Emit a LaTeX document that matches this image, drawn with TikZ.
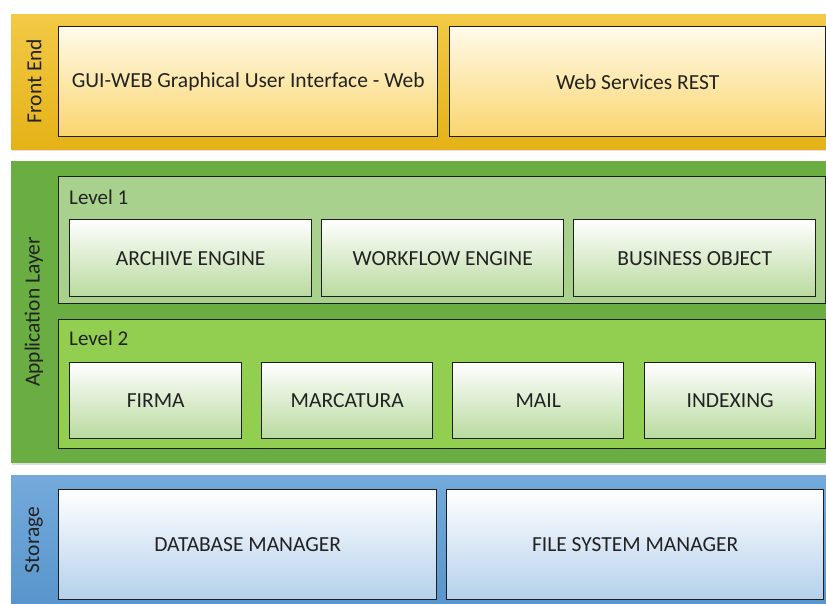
\documentclass[tikz,border=0pt]{standalone}
\usepackage{fontspec}
\setmainfont{Carlito}
\usetikzlibrary{shadows}
\definecolor{goldband}{HTML}{F0BC18}
\definecolor{goldtop}{HTML}{FFFBEA}
\definecolor{goldbot}{HTML}{FAD56E}
\definecolor{greenband}{HTML}{6AAD42}
\definecolor{levelone}{HTML}{A9D18E}
\definecolor{leveltwo}{HTML}{92CF50}
\definecolor{greenbot}{HTML}{B9DA9E}
\definecolor{blueband}{HTML}{5B9BD5}
\definecolor{bluebot}{HTML}{B4D0EC}
\definecolor{inkline}{HTML}{1E1E1E}
\definecolor{inktext}{HTML}{222222}
\tikzset{
  x=1pt, y=1pt,
  band/.style={draw=none, rectangle, anchor=north west, inner sep=0pt,
    drop shadow={shadow xshift=1pt, shadow yshift=-2pt, opacity=0.25}},
  levelbox/.style={draw=inkline, line width=1.4pt, rectangle, anchor=north west, inner sep=0pt},
  unitbox/.style={draw=inkline, line width=1.4pt, rectangle, anchor=north west, inner sep=0pt,
    font=\fontsize{21.5}{24}\selectfont, text=inktext},
  sidelabel/.style={rotate=90, font=\fontsize{21.5}{24}\selectfont, text=inktext},
  levellabel/.style={anchor=west, inner sep=0pt, font=\fontsize{21}{24}\selectfont, text=inktext},
}
\begin{document}
\begin{tikzpicture}
\useasboundingbox (0,0) rectangle (826,-604);
\fill[white] (0,0) rectangle (826,-604);

% ---- Front End ----
\node[band, top color=goldband!80!white, bottom color=goldband!95!black,
  minimum width=819, minimum height=135] (fe) at (11,-14) {};
\node[sidelabel] (felab) at (34,-81) {Front End};
\node[unitbox, top color=goldtop, bottom color=goldbot,
  minimum width=379, minimum height=110] (gui) at (58,-26) {GUI-WEB Graphical User Interface - Web};
\node[unitbox, top color=goldtop, bottom color=goldbot,
  minimum width=376, minimum height=110] (ws) at (449,-26) {Web Services REST};

% ---- Application Layer ----
\node[band, fill=greenband, minimum width=819, minimum height=302] (al) at (11,-161) {};
\node[sidelabel] (allab) at (34,-312) {Application Layer};

\node[levelbox, fill=levelone, minimum width=767, minimum height=127] (lv1) at (58,-176) {};
\node[levellabel] (lv1lab) at (69,-197) {Level 1};
\node[unitbox, top color=white, bottom color=greenbot,
  minimum width=242, minimum height=77] (arch) at (69,-219) {ARCHIVE ENGINE};
\node[unitbox, top color=white, bottom color=greenbot,
  minimum width=242, minimum height=77] (wf) at (321,-219) {WORKFLOW ENGINE};
\node[unitbox, top color=white, bottom color=greenbot,
  minimum width=242, minimum height=77] (bo) at (573,-219) {BUSINESS OBJECT};

\node[levelbox, fill=leveltwo, minimum width=767, minimum height=129] (lv2) at (58,-319) {};
\node[levellabel] (lv2lab) at (69,-338) {Level 2};
\node[unitbox, top color=white, bottom color=greenbot,
  minimum width=172, minimum height=76] (firma) at (69,-362) {FIRMA};
\node[unitbox, top color=white, bottom color=greenbot,
  minimum width=171, minimum height=76] (marc) at (261,-362) {MARCATURA};
\node[unitbox, top color=white, bottom color=greenbot,
  minimum width=171, minimum height=76] (mail) at (452,-362) {MAIL};
\node[unitbox, top color=white, bottom color=greenbot,
  minimum width=171, minimum height=76] (idx) at (644,-362) {INDEXING};

% ---- Storage ----
\node[band, top color=blueband!85!white, bottom color=blueband!95!black,
  minimum width=819, minimum height=140] (st) at (11,-475) {};
\node[sidelabel] (stlab) at (34,-540) {Storage};
\node[unitbox, top color=white, bottom color=bluebot,
  minimum width=378, minimum height=110] (db) at (58,-489) {DATABASE MANAGER};
\node[unitbox, top color=white, bottom color=bluebot,
  minimum width=377, minimum height=110] (fs) at (446,-489) {FILE SYSTEM MANAGER};
\end{tikzpicture}
\end{document}
